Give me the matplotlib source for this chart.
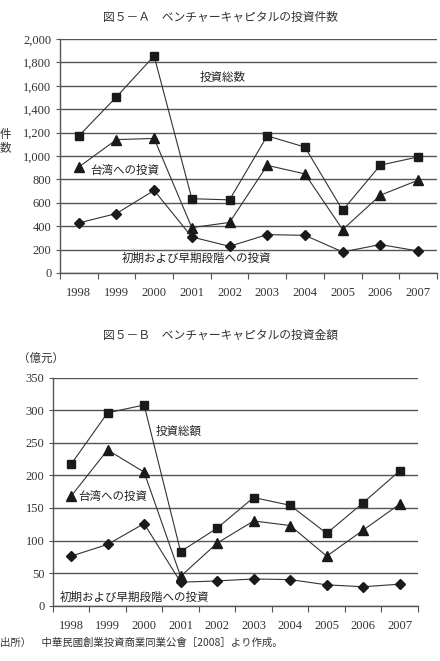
import numpy as np
import matplotlib.pyplot as plt
from matplotlib.ticker import FuncFormatter

plt.rcParams['font.family'] = ['Noto Sans CJK JP', 'DejaVu Sans']

years = ['1998', '1999', '2000', '2001', '2002', '2003', '2004', '2005', '2006', '2007']

# 図5-A 投資件数
cnt_total = [1170, 1505, 1855, 635, 625, 1172, 1076, 536, 922, 992]
cnt_taiwan = [905, 1140, 1150, 388, 432, 920, 847, 371, 665, 793]
cnt_early = [428, 508, 706, 308, 228, 328, 322, 180, 243, 188]

# 図5-B 投資金額 (億元)
amt_total = [217, 296, 308, 83, 119, 166, 154, 111, 158, 207]
amt_taiwan = [168, 239, 205, 45, 96, 130, 123, 76, 116, 156]
amt_early = [76, 94, 126, 36, 38, 41, 40, 32, 29, 33]

num_font = 'Liberation Serif'
x = np.arange(len(years))

fig = plt.figure(figsize=(4.4, 6.61), dpi=100)
ax1 = fig.add_axes([0.136, 0.587, 0.857, 0.354])
ax2 = fig.add_axes([0.120, 0.0837, 0.830, 0.345])


def style(ax, ymax, step, fmt):
    for s in ['top', 'right']:
        ax.spines[s].set_visible(False)
    for s in ['left', 'bottom']:
        ax.spines[s].set_color('#555555')
        ax.spines[s].set_linewidth(1.0)
    ax.set_xlim(-0.5, len(years) - 0.5)
    ax.set_ylim(0, ymax)
    ax.set_yticks(np.arange(0, ymax + 1, step))
    ax.yaxis.set_major_formatter(FuncFormatter(fmt))
    ax.yaxis.grid(True, color='#555555', linewidth=1.0)
    ax.set_axisbelow(True)
    ax.set_xticks(np.arange(-0.5, len(years)), labels=[])
    ax.set_xticks(x, labels=years, minor=True)
    ax.tick_params(axis='x', which='major', length=4, color='#555555', direction='out')
    ax.tick_params(axis='x', which='minor', length=0, pad=10)
    ax.tick_params(axis='y', length=3, color='#555555', pad=3)
    for lab in ax.get_xticklabels(minor=True) + ax.get_yticklabels():
        lab.set_fontfamily(num_font)
        lab.set_fontsize(9)
        lab.set_color('#333333')


def draw(ax, total, taiwan, early):
    kw = dict(color='#333333', linewidth=0.8, markerfacecolor='#1a1a1a',
              markeredgecolor='#1a1a1a')
    ax.plot(x, total, marker='s', markersize=5.8, **kw)
    ax.plot(x, taiwan, marker='^', markersize=7, **kw)
    ax.plot(x, early, marker='D', markersize=5, **kw)


style(ax1, 2000, 200, lambda v, p: f'{int(v):,}')
draw(ax1, cnt_total, cnt_taiwan, cnt_early)
ax1.text(3.2, 1675, '投資総数', fontsize=8.3, va='center', color='#222222')
ax1.text(0.3, 880, '台湾への投資', fontsize=8.3, va='center', color='#222222')
ax1.text(1.14, 128, '初期および早期段階への投資', fontsize=8.3, va='center', color='#222222')

style(ax2, 350, 50, lambda v, p: f'{int(v)}')
draw(ax2, amt_total, amt_taiwan, amt_early)
ax2.text(2.32, 268, '投資総額', fontsize=8.3, va='center', color='#222222')
ax2.text(0.19, 167, '台湾への投資', fontsize=8.3, va='center', color='#222222')
ax2.text(-0.31, 13, '初期および早期段階への投資', fontsize=8.3, va='center', color='#222222')

fig.text(0.5, 1 - 17 / 661, '図５－Ａ　ベンチャーキャピタルの投資件数', ha='center', va='center',
         fontsize=8.5, color='#333333')
fig.text(0.5, 1 - 335 / 661, '図５－Ｂ　ベンチャーキャピタルの投資金額', ha='center', va='center',
         fontsize=8.5, color='#333333')
fig.text(5 / 440, 1 - 141 / 661, '件\n数', ha='center', va='center', fontsize=8.3,
         linespacing=1.0, color='#333333')
fig.text(18 / 440, 1 - 358 / 661, '（億元）', ha='left', va='center', fontsize=8.3, color='#333333')
fig.text(0.0, 1 - 643 / 661, '出所）　中華民國創業投資商業同業公會［2008］より作成。', ha='left',
         va='center', fontsize=7.5, color='#333333')

fig.savefig('out.png', dpi=100)
